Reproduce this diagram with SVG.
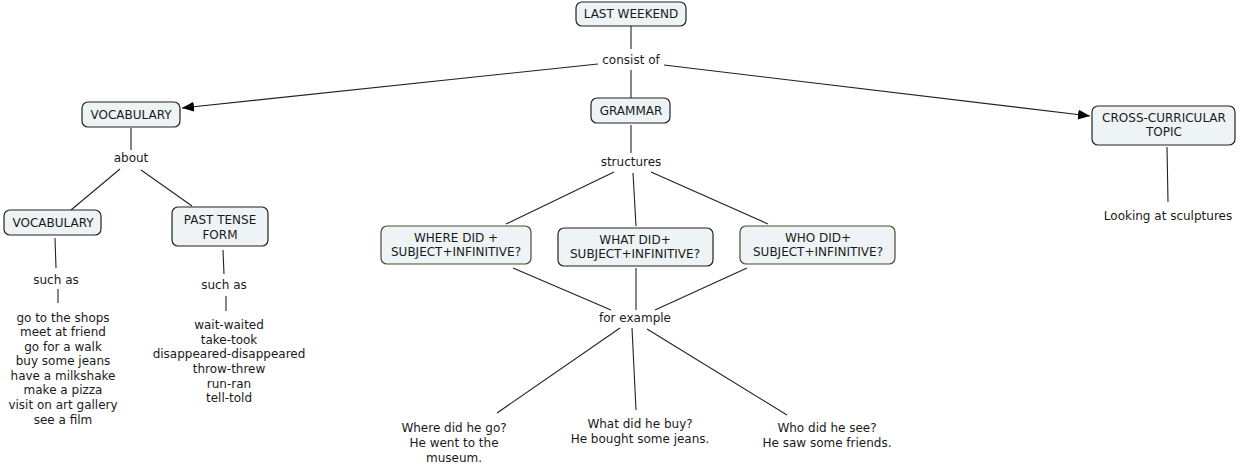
<svg xmlns="http://www.w3.org/2000/svg" width="1243" height="472" viewBox="0 0 1243 472">
<defs>
<style>
text{font-family:"DejaVu Sans",Verdana,sans-serif;font-size:12px;fill:#1a1a1a;text-anchor:middle}
.box{fill:#eef3f5;stroke:#222;stroke-width:1.2}
.boxg{fill:#eef3f5;stroke:#4a4a30;stroke-width:1.2}
.ln{stroke:#222;stroke-width:1.1;fill:none}
</style>
<marker id="arr" viewBox="0 0 12 10" refX="12" refY="5" markerWidth="12" markerHeight="10" markerUnits="userSpaceOnUse" orient="auto">
<path d="M0,0 L12,5 L0,10 Z" fill="#000"/>
</marker>
</defs>
<rect width="1243" height="472" fill="#fff"/>
<g id="connectors">
<line class="ln" x1="631" y1="26" x2="631" y2="49"/>
<line class="ln" x1="631" y1="70" x2="631" y2="98"/>
<line class="ln" x1="598" y1="64" x2="182" y2="108" marker-end="url(#arr)"/>
<line class="ln" x1="664" y1="65" x2="1090" y2="116" marker-end="url(#arr)"/>
<line class="ln" x1="131" y1="128" x2="131" y2="150"/>
<line class="ln" x1="120" y1="169" x2="71" y2="210"/>
<line class="ln" x1="141" y1="170" x2="192" y2="206"/>
<line class="ln" x1="55" y1="238" x2="56" y2="268"/>
<line class="ln" x1="58" y1="289" x2="58" y2="303"/>
<line class="ln" x1="223" y1="250" x2="224" y2="274"/>
<line class="ln" x1="226" y1="296" x2="226" y2="311"/>
<line class="ln" x1="631" y1="125" x2="631" y2="153"/>
<line class="ln" x1="614" y1="172" x2="506" y2="224"/>
<line class="ln" x1="633" y1="173" x2="636" y2="226"/>
<line class="ln" x1="651" y1="172" x2="768" y2="224"/>
<line class="ln" x1="513" y1="268" x2="611" y2="310"/>
<line class="ln" x1="636" y1="268" x2="636" y2="310"/>
<line class="ln" x1="747" y1="268" x2="655" y2="310"/>
<line class="ln" x1="620" y1="328" x2="497" y2="413"/>
<line class="ln" x1="632" y1="328" x2="636" y2="410"/>
<line class="ln" x1="647" y1="329" x2="787" y2="415"/>
<line class="ln" x1="1167" y1="147" x2="1168" y2="202"/>
</g>
<g id="last-weekend"><rect class="box" x="576" y="2" width="110" height="24" rx="6"/><text x="631" y="18">LAST WEEKEND</text></g>
<g id="consist-of"><text x="631" y="64">consist of</text></g>
<g id="vocabulary"><rect class="box" x="82" y="102" width="98" height="25" rx="6"/><text x="131" y="119">VOCABULARY</text></g>
<g id="about"><text x="131" y="162">about</text></g>
<g id="vocabulary2"><rect class="box" x="4" y="210" width="97" height="25" rx="6"/><text x="53" y="227">VOCABULARY</text></g>
<g id="past-tense"><rect class="box" x="172" y="207" width="96" height="39" rx="6"/><text x="220" y="224">PAST TENSE</text><text x="220" y="239">FORM</text></g>
<g id="such-as-1"><text x="56" y="284">such as</text></g>
<g id="vocab-list"><text x="63" y="322">go to the shops</text><text x="63" y="336">meet at friend</text><text x="63" y="351">go for a walk</text><text x="63" y="365">buy some jeans</text><text x="63" y="380">have a milkshake</text><text x="63" y="394">make a pizza</text><text x="63" y="409">visit on art gallery</text><text x="63" y="424">see a film</text></g>
<g id="such-as-2"><text x="224" y="289">such as</text></g>
<g id="verb-list"><text x="229" y="329">wait-waited</text><text x="229" y="344">take-took</text><text x="229" y="358">disappeared-disappeared</text><text x="229" y="373">throw-threw</text><text x="229" y="388">run-ran</text><text x="229" y="402">tell-told</text></g>
<g id="grammar"><rect class="box" x="591" y="98" width="79" height="25" rx="6"/><text x="631" y="115">GRAMMAR</text></g>
<g id="structures"><text x="631" y="166">structures</text></g>
<g id="where-did"><rect class="boxg" x="381" y="226" width="150" height="38" rx="6"/><text x="456" y="242">WHERE DID +</text><text x="456" y="256">SUBJECT+INFINITIVE?</text></g>
<g id="what-did"><rect class="box" x="558" y="228" width="155" height="38" rx="6"/><text x="635" y="244">WHAT DID+</text><text x="635" y="258">SUBJECT+INFINITIVE?</text></g>
<g id="who-did"><rect class="boxg" x="740" y="226" width="155" height="38" rx="6"/><text x="818" y="242">WHO DID+</text><text x="818" y="256">SUBJECT+INFINITIVE?</text></g>
<g id="for-example"><text x="635" y="322">for example</text></g>
<g id="where-ex"><text x="454" y="432">Where did he go?</text><text x="454" y="447">He went to the</text><text x="454" y="462">museum.</text></g>
<g id="what-ex"><text x="640" y="428">What did he buy?</text><text x="640" y="443">He bought some jeans.</text></g>
<g id="who-ex"><text x="827" y="432">Who did he see?</text><text x="827" y="447">He saw some friends.</text></g>
<g id="cross-curricular"><rect class="box" x="1092" y="106" width="143" height="39" rx="6"/><text x="1164" y="122">CROSS-CURRICULAR</text><text x="1164" y="136">TOPIC</text></g>
<g id="sculptures"><text x="1168" y="220">Looking at sculptures</text></g>
</svg>
